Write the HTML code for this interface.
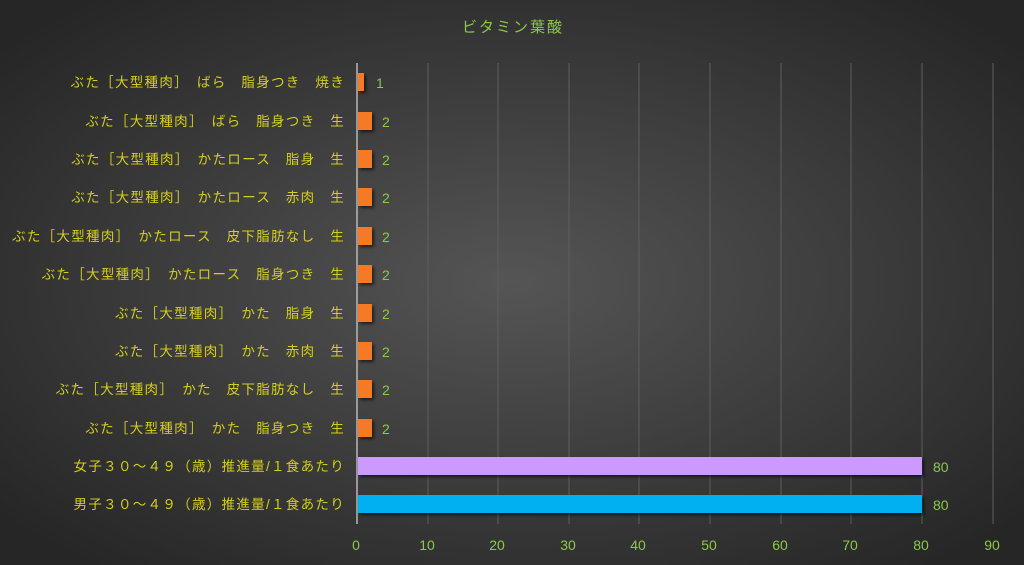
<!DOCTYPE html>
<html><head><meta charset="utf-8"><style>
html,body{margin:0;padding:0;width:1024px;height:565px;overflow:hidden;background:#333}
svg{display:block}
text{font-family:"Liberation Sans","Noto Sans CJK JP",sans-serif}
</style></head><body>
<svg width="1024" height="565" xmlns="http://www.w3.org/2000/svg">
<defs>
<radialGradient id="bg" cx="50%" cy="50%" r="65%">
<stop offset="0" stop-color="#555555"/>
<stop offset="1" stop-color="#262626"/>
</radialGradient>
<filter id="sh" x="-20%" y="-20%" width="140%" height="160%"><feDropShadow dx="2" dy="2" stdDeviation="1.5" flood-color="#000" flood-opacity="0.6"/></filter>
</defs>
<rect width="1024" height="565" fill="url(#bg)"/>
<text x="513" y="32" text-anchor="middle" font-size="15" fill="#8cc84b" letter-spacing="2">ビタミン葉酸</text>
<g stroke="#5e5e5e" stroke-width="1">
<line x1="428" y1="63" x2="428" y2="524"/><line x1="498" y1="63" x2="498" y2="524"/>
<line x1="569" y1="63" x2="569" y2="524"/><line x1="639" y1="63" x2="639" y2="524"/>
<line x1="710" y1="63" x2="710" y2="524"/><line x1="781" y1="63" x2="781" y2="524"/>
<line x1="851" y1="63" x2="851" y2="524"/><line x1="922" y1="63" x2="922" y2="524"/>
<line x1="993" y1="63" x2="993" y2="524"/>
</g>
<line x1="357" y1="63" x2="357" y2="524" stroke="#b8b8b8" stroke-width="1.5"/>
<g filter="url(#sh)">
<rect x="358" y="73" width="6" height="18" fill="#f47a27"/>
<rect x="358" y="112" width="14" height="18" fill="#f47a27"/>
<rect x="358" y="150" width="14" height="18" fill="#f47a27"/>
<rect x="358" y="188" width="14" height="18" fill="#f47a27"/>
<rect x="358" y="227" width="14" height="18" fill="#f47a27"/>
<rect x="358" y="265" width="14" height="18" fill="#f47a27"/>
<rect x="358" y="304" width="14" height="18" fill="#f47a27"/>
<rect x="358" y="342" width="14" height="18" fill="#f47a27"/>
<rect x="358" y="380" width="14" height="18" fill="#f47a27"/>
<rect x="358" y="419" width="14" height="18" fill="#f47a27"/>
<rect x="358" y="457" width="564" height="18" fill="#cc99ff"/>
<rect x="358" y="495" width="564" height="18" fill="#00b0f0"/>
</g>
<g font-size="14" fill="#8cc84b">
<text x="376" y="88">1</text>
<text x="382" y="127">2</text><text x="382" y="165">2</text><text x="382" y="203">2</text>
<text x="382" y="242">2</text><text x="382" y="280">2</text><text x="382" y="319">2</text>
<text x="382" y="357">2</text><text x="382" y="395">2</text><text x="382" y="434">2</text>
<text x="933" y="472">80</text><text x="933" y="510">80</text>
</g>
<g font-size="13.5" fill="#d4cf1e" text-anchor="end" letter-spacing="1.3">
<text x="345" y="87">ぶた［大型種肉］　ばら　脂身つき　焼き</text>
<text x="345" y="126">ぶた［大型種肉］　ばら　脂身つき　生</text>
<text x="345" y="164">ぶた［大型種肉］　かたロース　脂身　生</text>
<text x="345" y="202">ぶた［大型種肉］　かたロース　赤肉　生</text>
<text x="345" y="241">ぶた［大型種肉］　かたロース　皮下脂肪なし　生</text>
<text x="345" y="279">ぶた［大型種肉］　かたロース　脂身つき　生</text>
<text x="345" y="318">ぶた［大型種肉］　かた　脂身　生</text>
<text x="345" y="356">ぶた［大型種肉］　かた　赤肉　生</text>
<text x="345" y="394">ぶた［大型種肉］　かた　皮下脂肪なし　生</text>
<text x="345" y="433">ぶた［大型種肉］　かた　脂身つき　生</text>
<text x="345" y="471">女子３０～４９（歳）推進量/１食あたり</text>
<text x="345" y="509">男子３０～４９（歳）推進量/１食あたり</text>
</g>
<g font-size="14" fill="#8cc84b" text-anchor="middle">
<text x="356" y="550">0</text><text x="427" y="550">10</text><text x="497" y="550">20</text>
<text x="568" y="550">30</text><text x="638" y="550">40</text><text x="709" y="550">50</text>
<text x="780" y="550">60</text><text x="850" y="550">70</text><text x="921" y="550">80</text>
<text x="992" y="550">90</text>
</g>
</svg>
</body></html>
